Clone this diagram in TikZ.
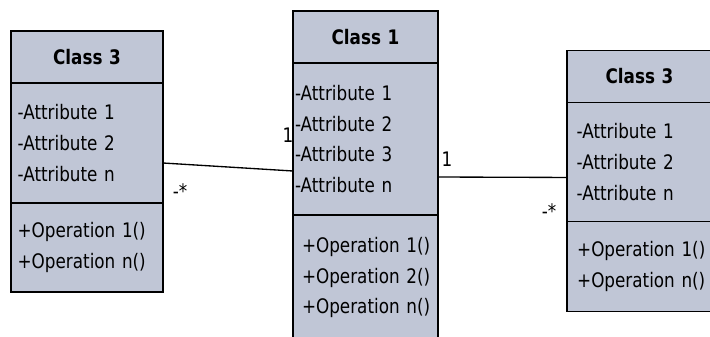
\documentclass[tikz,border=0pt]{standalone}
\usepackage{fontspec}
\setmainfont{DejaVu Sans}[FakeStretch=0.84]
\usetikzlibrary{positioning}

\definecolor{classfill}{RGB}{192,198,214}

\tikzset{
  umltext/.style={font=\fontsize{15}{23}\selectfont},
  classhead/.style={draw, fill=classfill, line width=1pt, outer sep=0pt, inner xsep=5pt,
    text width=#1, align=center, minimum height=39pt, font=\fontsize{15}{23}\selectfont\bfseries},
  compart/.style={draw, fill=classfill, line width=1pt, outer sep=0pt, inner xsep=5pt,
    text width=#1, align=left, umltext},
  assoc/.style={line width=1pt},
  mult/.style={inner sep=0.75pt, umltext}
}

\begin{document}
\begin{tikzpicture}[x=0.75pt,y=0.75pt,yscale=-1]
\useasboundingbox (0,0) rectangle (710,336);
\clip (0,0) rectangle (710,336);

% Class 3 (left)
\node[classhead=104pt] (l-head) at (87,57) {Class 3};
\node[compart=104pt, minimum height=90pt, below=0pt of l-head] (l-attr) {-Attribute~1\\-Attribute~2\\-Attribute~n};
\node[compart=104pt, minimum height=66.75pt, below=0pt of l-attr] (l-ops) {+Operation~1()\\+Operation~n()};

% Class 1 (middle)
\node[classhead=98.75pt] (m-head) at (365.5,37) {Class 1};
\node[compart=105.75pt, inner xsep=1.5pt, minimum height=114pt, below=0pt of m-head] (m-attr) {-Attribute~1\\-Attribute~2\\-Attribute~3\\-Attribute~n};
\node[compart=95.25pt, inner xsep=6.75pt, minimum height=93.75pt, below=0pt of m-attr] (m-ops) {+Operation~1()\\+Operation~2()\\+Operation~n()};

% Class 3 (right)
\node[classhead=98.75pt] (r-head) at (639.5,76.5) {Class 3};
\node[compart=94.25pt, inner xsep=7.25pt, minimum height=89.25pt, below=0pt of r-head] (r-attr) {-Attribute~1\\-Attribute~2\\-Attribute~n};
\node[compart=93.5pt, inner xsep=7.625pt, minimum height=67.5pt, below=0pt of r-attr] (r-ops) {+Operation~1()\\+Operation~n()};

% Associations
\draw[assoc] ([yshift=15pt]l-attr.east) -- ([yshift=24pt]m-attr.west);
\draw[assoc] ([yshift=28.5pt]m-attr.east) -- ([yshift=11.6pt]r-attr.west);

% Multiplicities
\node[mult] (l-one) at (288,135) {1};
\node[mult] (l-many) at (180,191) {-*};
\node[mult] (r-one) at (447,159) {1};
\node[mult] (r-many) at (549,211) {-*};

\end{tikzpicture}
\end{document}
